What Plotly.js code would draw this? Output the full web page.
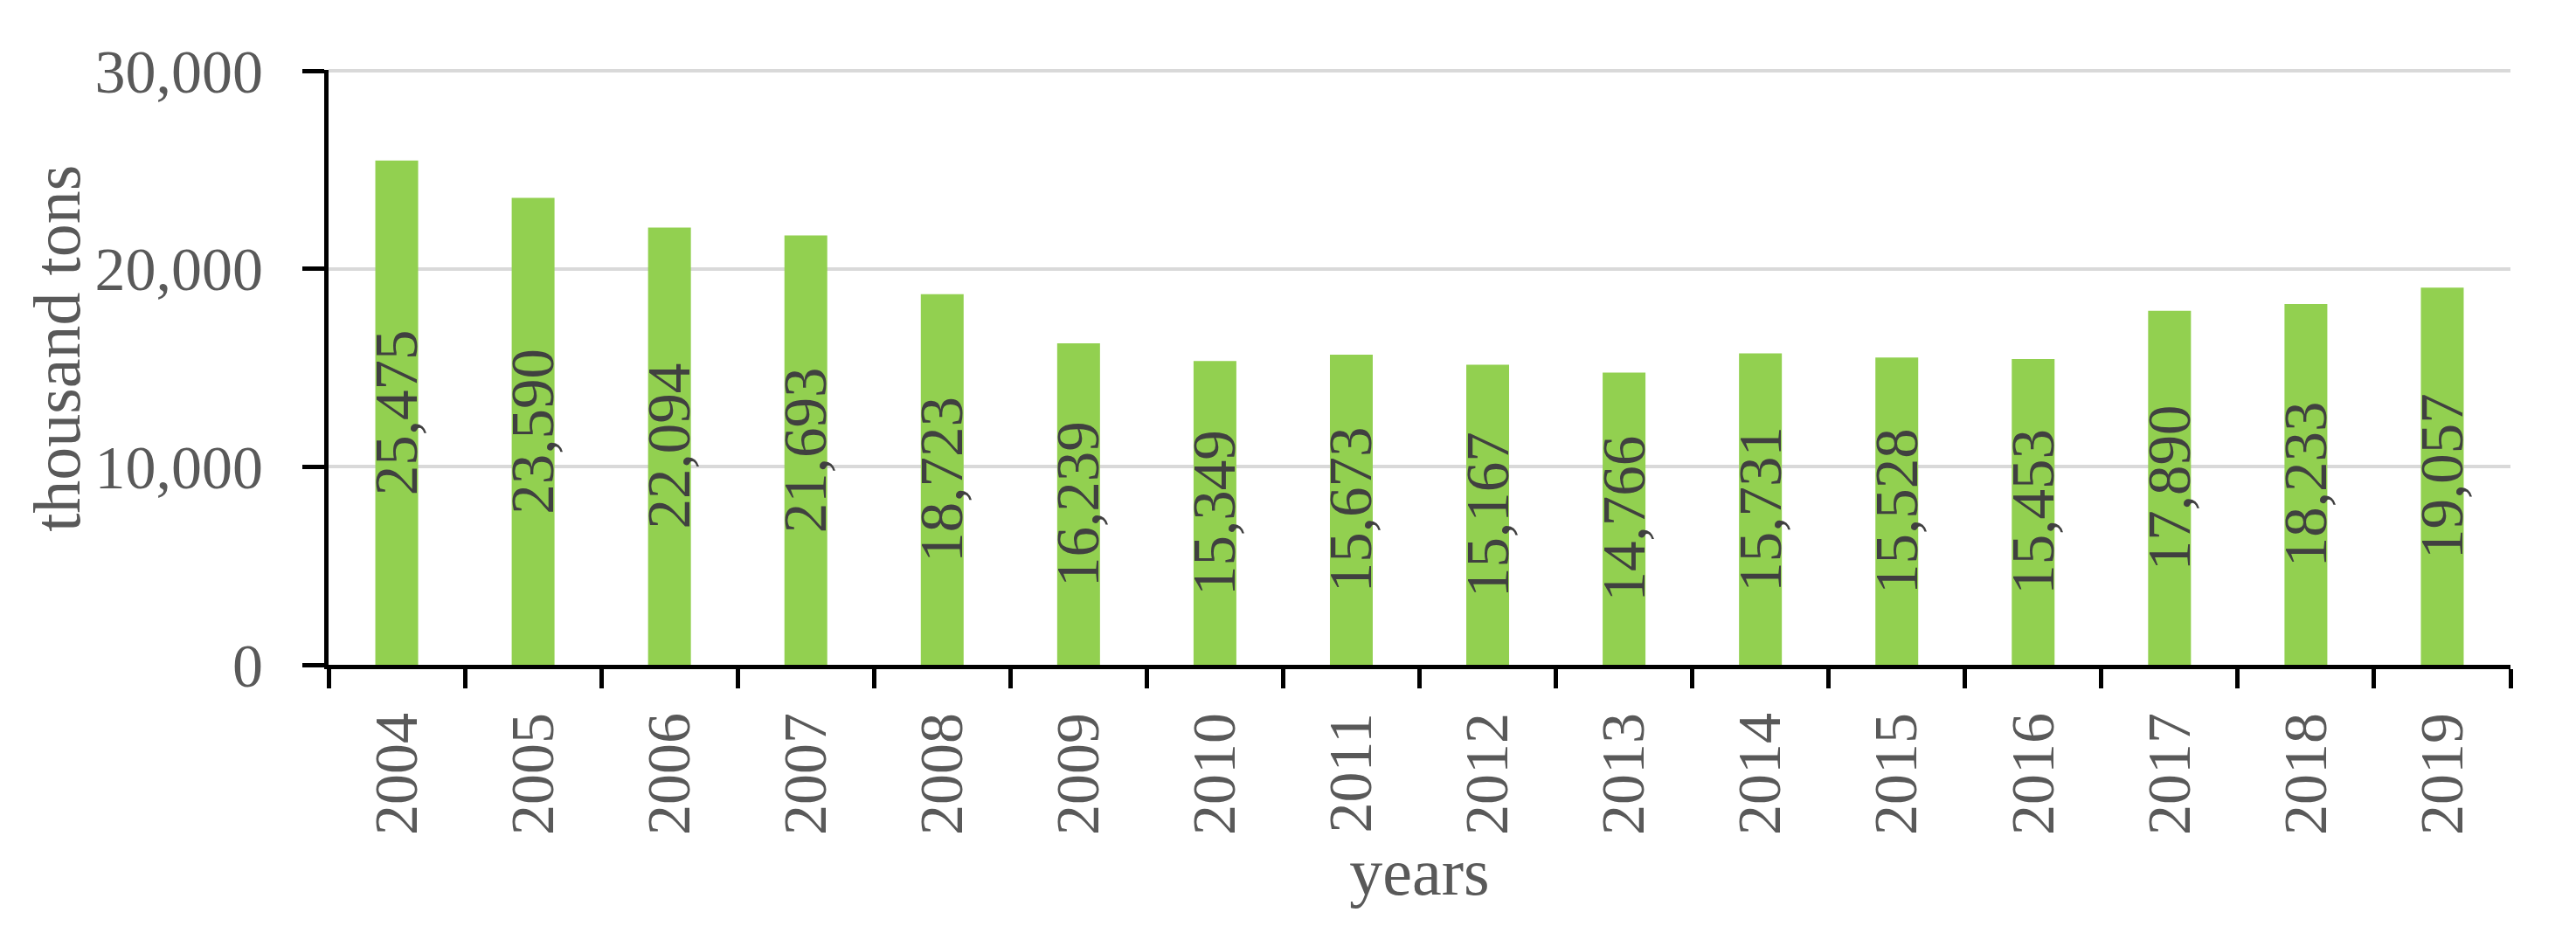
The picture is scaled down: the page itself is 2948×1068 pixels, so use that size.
<!DOCTYPE html>
<html>
<head>
<meta charset="utf-8">
<script src="https://cdn.plot.ly/plotly-3.0.1.min.js"></script>
<style>html,body{margin:0;padding:0;background:#fff;}#chart{width:2948px;height:1068px;}</style>
</head>
<body>
<div id="chart"></div>
<script>
const years = ["2004","2005","2006","2007","2008","2009","2010","2011","2012","2013","2014","2015","2016","2017","2018","2019"];
const values = [25475, 23590, 22094, 21693, 18723, 16239, 15349, 15673, 15167, 14766, 15731, 15528, 15453, 17890, 18233, 19057];
const yTickVals = [0, 10000, 20000, 30000];
const yTickText = ["0", "10,000", "20,000", "30,000"];
const xTitle = "years";
const yTitle = "thousand tons";

const FONT = "'Liberation Serif', 'DejaVu Serif', serif";

const trace = {
  type: "bar",
  x: years,
  y: values,
  text: values.map(v => v.toLocaleString("en-US")),
  textposition: "inside",
  insidetextanchor: "middle",
  textangle: -90,
  constraintext: "none",
  insidetextfont: {family: FONT, size: 69, color: "#404040"},
  marker: {color: "#92D050", line: {width: 0}},
  width: 0.314,
  hoverinfo: "skip"
};

const layout = {
  width: 2948,
  height: 1068,
  margin: {l: 376, r: 75, t: 80, b: 307, pad: 0},
  paper_bgcolor: "#ffffff",
  plot_bgcolor: "#ffffff",
  showlegend: false,
  font: {family: FONT, color: "#595959", size: 70},
  xaxis: {
    type: "category",
    tickangle: -90,
    ticks: "outside",
    tickson: "boundaries",
    ticklen: 22,
    tickwidth: 5,
    tickcolor: "#000000",
    showline: true,
    linecolor: "#000000",
    linewidth: 5,
    showgrid: false,
    ticklabelstandoff: 22,
    tickfont: {family: FONT, size: 70, color: "#595959"},
    title: {text: xTitle, font: {family: FONT, size: 76, color: "#595959"}, standoff: 10},
    automargin: false
  },
  yaxis: {
    range: [0, 30060],
    tickvals: yTickVals,
    ticktext: yTickText,
    ticks: "outside",
    ticklen: 25,
    tickwidth: 5,
    tickcolor: "#000000",
    showline: true,
    linecolor: "#000000",
    linewidth: 5,
    showgrid: true,
    gridcolor: "#d9d9d9",
    gridwidth: 4,
    zeroline: false,
    ticklabelstandoff: 31,
    tickfont: {family: FONT, size: 70, color: "#595959"},
    automargin: false
  },
  annotations: [{
    text: yTitle,
    xref: "paper", yref: "paper",
    x: -0.1245, y: 0.532,
    xanchor: "center", yanchor: "middle",
    textangle: -90,
    showarrow: false,
    font: {family: FONT, size: 76, color: "#595959"}
  }],
  bargap: 0.686
};

Plotly.newPlot("chart", [trace], layout, {staticPlot: true, displayModeBar: false});
</script>
</body>
</html>
